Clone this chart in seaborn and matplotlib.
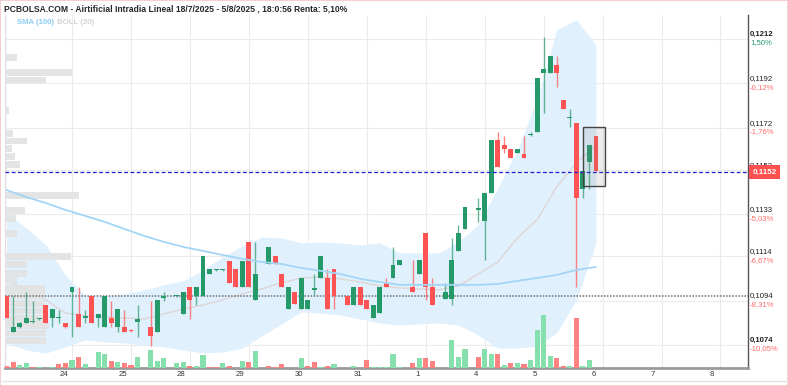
import numpy as np
import pandas as pd
import matplotlib
matplotlib.use("Agg")
import matplotlib.pyplot as plt
import matplotlib.transforms as mtransforms
from matplotlib.patches import Rectangle
from matplotlib.lines import Line2D
import seaborn as sns

nan = float("nan")

TITLE = "PCBOLSA.COM - Airtificial Intradia Lineal 18/7/2025 - 5/8/2025 , 18:0:56 Renta: 5,10%"

# hourly bars, 9 per session; bar 0 is the last bar before the 24th
opens = [
    0.10961, 0.10800, 0.10820, 0.10841, 0.10844, 0.10857, 0.10920, 0.10863, 0.10862, 0.10838,
    0.10980, 0.10880, 0.10862, 0.10961, 0.10863, 0.10822, 0.10860, 0.10822, 0.10820, 0.10808,
    0.10844, nan, 0.10822, 0.10800, 0.10952, nan, 0.10961, 0.10880, 0.11000, 0.10961,
    0.10961, 0.11060, 0.11078, 0.11078, 0.11120, 0.11081, 0.11000, 0.11203, 0.10943, nan,
    0.11105, 0.11141, 0.11060, 0.10904, 0.10980, 0.10904, 0.10904, 0.10988, 0.11041, 0.11041,
    0.11081, nan, 0.10961, 0.10922, 0.11000, 0.10943, 0.10863, 0.10883, 0.11020, 0.11041,
    0.11101, nan, 0.11000, 0.11062, 0.11244, 0.11000, nan, 0.10946, 0.10946, 0.11165,
    0.11264, nan, 0.11349, 0.11301, 0.11424, 0.11665, 0.11642, 0.11623, 0.11605, 0.11601,
    0.11687, 0.11702, 0.11965, 0.11965, 0.12003, 0.11845, 0.11764, 0.11743, 0.11445, 0.11567,
    0.11683]
highs = [
    0.10961, 0.10959, 0.10844, 0.10980, 0.10940, 0.10862, 0.10920, 0.10902, 0.10898, 0.10839,
    0.11000, 0.11000, 0.10898, 0.10961, 0.10880, 0.10961, 0.10940, 0.10902, 0.10898, 0.10812,
    0.10920, nan, 0.10940, 0.10943, 0.10980, nan, 0.10965, 0.10980, 0.11000, 0.11000,
    0.11141, 0.11081, 0.11083, 0.11083, 0.11120, 0.11081, 0.11120, 0.11203, 0.11203, nan,
    0.11181, 0.11141, 0.11060, 0.11000, 0.10980, 0.11041, 0.10943, 0.11059, 0.11141, 0.11081,
    0.11081, nan, 0.10961, 0.11000, 0.11000, 0.10943, 0.10922, 0.11000, 0.11041, 0.11181,
    0.11122, nan, 0.11122, 0.11122, 0.11244, 0.11041, nan, 0.11020, 0.11221, 0.11281,
    0.11364, nan, 0.11402, 0.11424, 0.11665, 0.11702, 0.11683, 0.11623, 0.11623, 0.11683,
    0.11702, 0.11943, 0.12128, 0.12043, 0.12043, 0.11845, 0.11803, 0.11743, 0.11523, 0.11642,
    0.11683]
lows = [
    0.10863, 0.10800, 0.10816, 0.10839, 0.10841, 0.10853, 0.10841, 0.10821, 0.10841, 0.10816,
    0.10777, 0.10821, 0.10841, 0.10839, 0.10820, 0.10821, 0.10822, 0.10800, 0.10800, 0.10799,
    0.10777, nan, 0.10737, 0.10800, 0.10940, nan, 0.10956, 0.10880, 0.10857, 0.10920,
    0.10961, 0.11060, 0.11074, 0.11074, 0.11021, 0.11000, 0.11000, 0.11000, 0.10943, nan,
    0.11105, 0.11105, 0.11000, 0.10904, 0.10924, 0.10904, 0.10904, 0.10965, 0.11041, 0.10902,
    0.10902, nan, 0.10922, 0.10922, 0.10922, 0.10902, 0.10863, 0.10883, 0.11000, 0.11041,
    0.11101, nan, 0.10980, 0.11062, 0.10943, 0.10922, nan, 0.10946, 0.10920, 0.11165,
    0.11264, nan, 0.11296, 0.11123, 0.11424, 0.11544, 0.11605, 0.11585, 0.11605, 0.11585,
    0.11683, 0.11702, 0.11785, 0.11965, 0.11902, 0.11804, 0.11722, 0.11000, 0.11402, 0.11442,
    0.11526]
closes = [
    0.10863, 0.10822, 0.10841, 0.10860, 0.10848, 0.10862, 0.10841, 0.10901, 0.10866, 0.10820,
    0.11000, 0.10822, 0.10871, 0.10841, 0.10880, 0.10961, 0.10841, 0.10901, 0.10800, 0.10803,
    0.10857, nan, 0.10781, 0.10943, 0.10961, nan, 0.10965, 0.10980, 0.10943, 0.11000,
    0.11141, 0.11081, 0.11078, 0.11083, 0.11021, 0.11000, 0.11120, 0.11000, 0.11060, nan,
    0.11181, 0.11105, 0.11000, 0.11000, 0.10924, 0.11041, 0.10943, 0.10997, 0.11141, 0.10902,
    0.10961, nan, 0.10922, 0.11000, 0.10922, 0.10902, 0.10922, 0.11000, 0.11000, 0.11101,
    0.11122, nan, 0.10980, 0.11122, 0.11000, 0.10922, nan, 0.10980, 0.11123, 0.11244,
    0.11364, nan, 0.11358, 0.11424, 0.11665, 0.11544, 0.11623, 0.11585, 0.11623, 0.11585,
    0.11692, 0.11943, 0.11983, 0.12043, 0.11965, 0.11804, 0.11768, 0.11404, 0.11523, 0.11642,
    0.11526]
volumes = [
    17, 57, 30, 47, 13, 10, 0, 13, 40, 53,
    83, 107, 40, 0, 163, 140, 67, 57, 47, 30,
    110, 0, 180, 67, 97, 0, 53, 60, 23, 23,
    130, 13, 10, 50, 17, 0, 67, 60, 173, 0,
    17, 13, 40, 0, 0, 97, 17, 57, 10, 20,
    40, 0, 0, 20, 0, 80, 10, 13, 10, 140,
    10, 0, 47, 97, 97, 67, 0, 0, 277, 113,
    187, 0, 107, 187, 137, 140, 30, 50, 47, 37,
    80, 380, 527, 120, 97, 17, 23, 500, 17, 77,
    0]
vol_side = ("rrggrgggrr" "grgrggrgrr" "ggggggggrg" "grrgrrgrgg" "rrrgrgrrgr"
            "ggrgrrgggg" "ggrgrrgggg" "ggrggrgrgr" "ggggrrgrgg" "r")

# indicators every third bar
ind_idx = [0, 3, 6, 9, 12, 15, 18, 21, 24, 27, 30, 33, 36, 39, 42, 45,
           48, 51, 54, 57, 60, 63, 66, 69, 72, 75, 78, 81, 84, 87, 90]
boll_up = [0.11335, 0.11268, 0.11191, 0.11056, 0.10961, 0.10961, 0.10970, 0.10988,
           0.11011, 0.11029, 0.11078, 0.11137, 0.11186, 0.11227, 0.11223, 0.11200,
           0.11205, 0.11200, 0.11191, 0.11200, 0.11155, 0.11155, 0.11155, 0.11205,
           0.11281, 0.11448, 0.11619, 0.11849, 0.12161, 0.12206, 0.12093]
boll_mid = [0.11033, 0.10988, 0.10943, 0.10884, 0.10871, 0.10866, 0.10862, 0.10857,
            0.10880, 0.10902, 0.10920, 0.10943, 0.10970, 0.10993, 0.11020, 0.11042,
            0.11047, 0.11038, 0.11024, 0.11006, 0.10997, 0.10993, 0.10988, 0.11006,
            0.11060, 0.11114, 0.11223, 0.11304, 0.11453, 0.11561, 0.11642]
boll_low = [0.10749, 0.10717, 0.10704, 0.10731, 0.10763, 0.10754, 0.10749, 0.10740,
            0.10731, 0.10717, 0.10704, 0.10708, 0.10726, 0.10781, 0.10835, 0.10889,
            0.10884, 0.10875, 0.10857, 0.10839, 0.10830, 0.10835, 0.10839, 0.10830,
            0.10785, 0.10726, 0.10726, 0.10735, 0.10794, 0.10943, 0.11200]
sma_100 = [0.11439, 0.11407, 0.11380, 0.11349, 0.11322, 0.11295, 0.11263, 0.11232,
           0.11205, 0.11182, 0.11164, 0.11146, 0.11128, 0.11114, 0.11105, 0.11087,
           0.11074, 0.11060, 0.11038, 0.11024, 0.11011, 0.11011, 0.11011, 0.11011,
           0.11011, 0.11015, 0.11029, 0.11042, 0.11056, 0.11078, 0.11092]

# volume by price (left side profile)
prof_price = [0.12037, 0.11969, 0.11935, 0.11798, 0.11694, 0.11660, 0.11624, 0.11588,
              0.11554, 0.11527, 0.11414, 0.11347, 0.11310, 0.11243, 0.11175, 0.11137,
              0.11103, 0.11062, 0.11029, 0.10995, 0.10961, 0.10927, 0.10893, 0.10859,
              0.10828, 0.10794, 0.10760]
prof_vol = [12, 67, 41, 4, 8, 22, 7, 10, 15, 2, 74, 20, 11, 12, 1, 66,
            22, 22, 12, 40, 40, 40, 40, 41, 44, 41, 41]

price_ticks = [0.1212, 0.1192, 0.1172, 0.1153, 0.1133, 0.1114, 0.1094, 0.1074]
# the percentage under 0,1153 is hidden behind the last-price tag
pct_labels = ["1,50%", "-0,12%", "-1,76%", "", "-5,03%", "-6,67%", "-8,31%", "-10,05%"]
day_start = [10, 19, 28, 37, 46, 55, 64, 73, 82, 91, 100, 109]
day_labels = ["24", "25", "28", "29", "30", "31", "1", "4", "5", "6", "7", "8"]

ref_price = 0.1096
last_price = 0.1152
box_first, box_last = 88, 90
box_lo, box_hi = 0.11458, 0.11725

GREEN = "#26996b"
RED = "#ff5252"
VOL_GREEN = "#86e0ae"
VOL_RED = "#ff8282"
PCT_RED = "#ff6a6a"

sns.set_theme(style="white")
plt.rcParams["font.family"] = ["Liberation Sans", "DejaVu Sans"]

W, H = 788, 386
fig = plt.figure(figsize=(W / 100, H / 100), dpi=100)
pos = [5 / W, 18 / H, 743 / W, 353 / H]
ax = fig.add_axes(pos)

df = pd.DataFrame({"open": opens, "high": highs, "low": lows, "close": closes,
                   "volume": volumes, "side": list(vol_side)})
df["idx"] = np.arange(len(df))

# background: grid, bollinger band
ax.fill_between(ind_idx, boll_low, boll_up, color="#e0f0fc", lw=0, zorder=1)
sns.lineplot(x=ind_idx, y=boll_mid, ax=ax, color="#ddd6d6", lw=1, zorder=2)
ax.set_yticks(price_ticks)
ax.set_yticklabels([])
ax.set_xticks(day_start)
ax.set_xticklabels(day_labels)
ax.grid(True, color="#ebebeb", lw=0.8)
ax.tick_params(length=0, labelsize=5.6, colors="#333333", pad=2.5)
for lbl in ax.get_xticklabels():
    lbl.set_transform(lbl.get_transform() +
                      mtransforms.ScaledTranslation(-8.5 / 100, 0, fig.dpi_scale_trans))
ax.set_xlabel("")
ax.set_ylabel("")
for s in ax.spines.values():
    s.set_visible(True)
ax.spines["top"].set_visible(False)
ax.spines["left"].set_color("#dddddd")
ax.spines["left"].set_linewidth(0.8)
ax.spines["right"].set_color("#555555")
ax.spines["right"].set_linewidth(1)
ax.spines["bottom"].set_color("#9a9a9a")
ax.spines["bottom"].set_linewidth(2)

# volume profile
ax_p = ax.twiny()
ax_p.barh(prof_price, prof_vol, height=0.00031, color="#e2e2e2", alpha=0.9, lw=0)
ax_p.set_xlim(0, 743)
ax_p.axis("off")

# volume bars
ax_v = ax.twinx()
ax_v.bar(df["idx"], df["volume"], width=0.78, lw=0,
         color=[VOL_GREEN if s == "g" else VOL_RED for s in df["side"]])
ax_v.set_ylim(0, 3530)
ax_v.axis("off")

# candles on top
ax_c = fig.add_axes(pos, sharex=ax, sharey=ax)
ax_c.axis("off")
cd = df.dropna(subset=["open"])
rising = cd["close"] >= cd["open"]
ccol = np.where(rising, GREEN, RED)
body_lo = cd[["open", "close"]].min(axis=1)
body_h = (cd["close"] - cd["open"]).abs().clip(lower=0.00004)
ax_c.axhline(ref_price, color="#6e6e6e", ls=(0, (1, 1)), lw=1.1, zorder=2)
ax_c.vlines(cd["idx"], cd["low"], cd["high"], colors=ccol, lw=1, alpha=0.7, zorder=3)
ax_c.bar(cd["idx"], body_h, bottom=body_lo, width=0.75, color=ccol, lw=0, zorder=4)
sns.lineplot(x=ind_idx, y=sma_100, ax=ax_c, color="#a3d5f7", lw=1.3, zorder=5)
ax_c.axhline(last_price, color="#1c1cd0", ls=(0, (3, 2)), lw=0.9, zorder=6)
ax_c.add_patch(Rectangle((box_first, box_lo), box_last - box_first + 1.3, box_hi - box_lo,
                         fc=(0.5, 0.5, 0.5, 0.15), ec="#444444", lw=1, zorder=7))

ax.set_xlim(-0.23, 113.2)
ax.set_ylim(0.10636, 0.12228)

# right price scale
trans = mtransforms.blended_transform_factory(ax.transAxes, ax.transData)
for k, (p, pl) in enumerate(zip(price_ticks, pct_labels)):
    bold = k in (0, len(price_ticks) - 1)
    ax.annotate(f"{p:.4f}".replace(".", ","), xy=(1, p), xycoords=trans,
                xytext=(1.5, 3.3), textcoords="offset points", ha="left", va="center",
                fontsize=5.6, fontweight="bold" if bold else "normal", color="#222222",
                annotation_clip=False)
    if pl:
        ax.annotate(pl, xy=(1, p), xycoords=trans, xytext=(1.5, -2.9),
                    textcoords="offset points", ha="left", va="center", fontsize=5.6,
                    color=GREEN if not pl.startswith("-") else PCT_RED,
                    annotation_clip=False)

trans_c = mtransforms.blended_transform_factory(ax_c.transAxes, ax_c.transData)
ax_c.annotate(f"{last_price:.4f}".replace(".", ","), xy=(1, last_price), xycoords=trans_c,
              xytext=(3, 0), textcoords="offset points", ha="left", va="center",
              fontsize=5.8, fontweight="bold", color="white", annotation_clip=False,
              bbox=dict(boxstyle="square,pad=0.45", fc="#ff4f4f", ec="none"), zorder=10)

# header
fig.text(4 / W, 1 - 9 / H, TITLE, fontsize=6.15, fontweight="bold", color="#262626", va="center")
fig.text(17 / W, 1 - 23 / H, "SMA (100)", fontsize=5.6, fontweight="bold", color="#8dcdf5", va="center")
fig.text(57 / W, 1 - 23 / H, "BOLL (20)", fontsize=5.6, fontweight="bold", color="#d2d2d2", va="center")

fig.add_artist(Line2D([0, 1], [1 - 381 / H] * 2, color="#e4e4e4", lw=1))
fig.add_artist(Rectangle((0, 0), 1, 1, transform=fig.transFigure, fill=False,
                         ec="#f2c6c6", lw=1.2))

fig.savefig("out.png", dpi=100)
